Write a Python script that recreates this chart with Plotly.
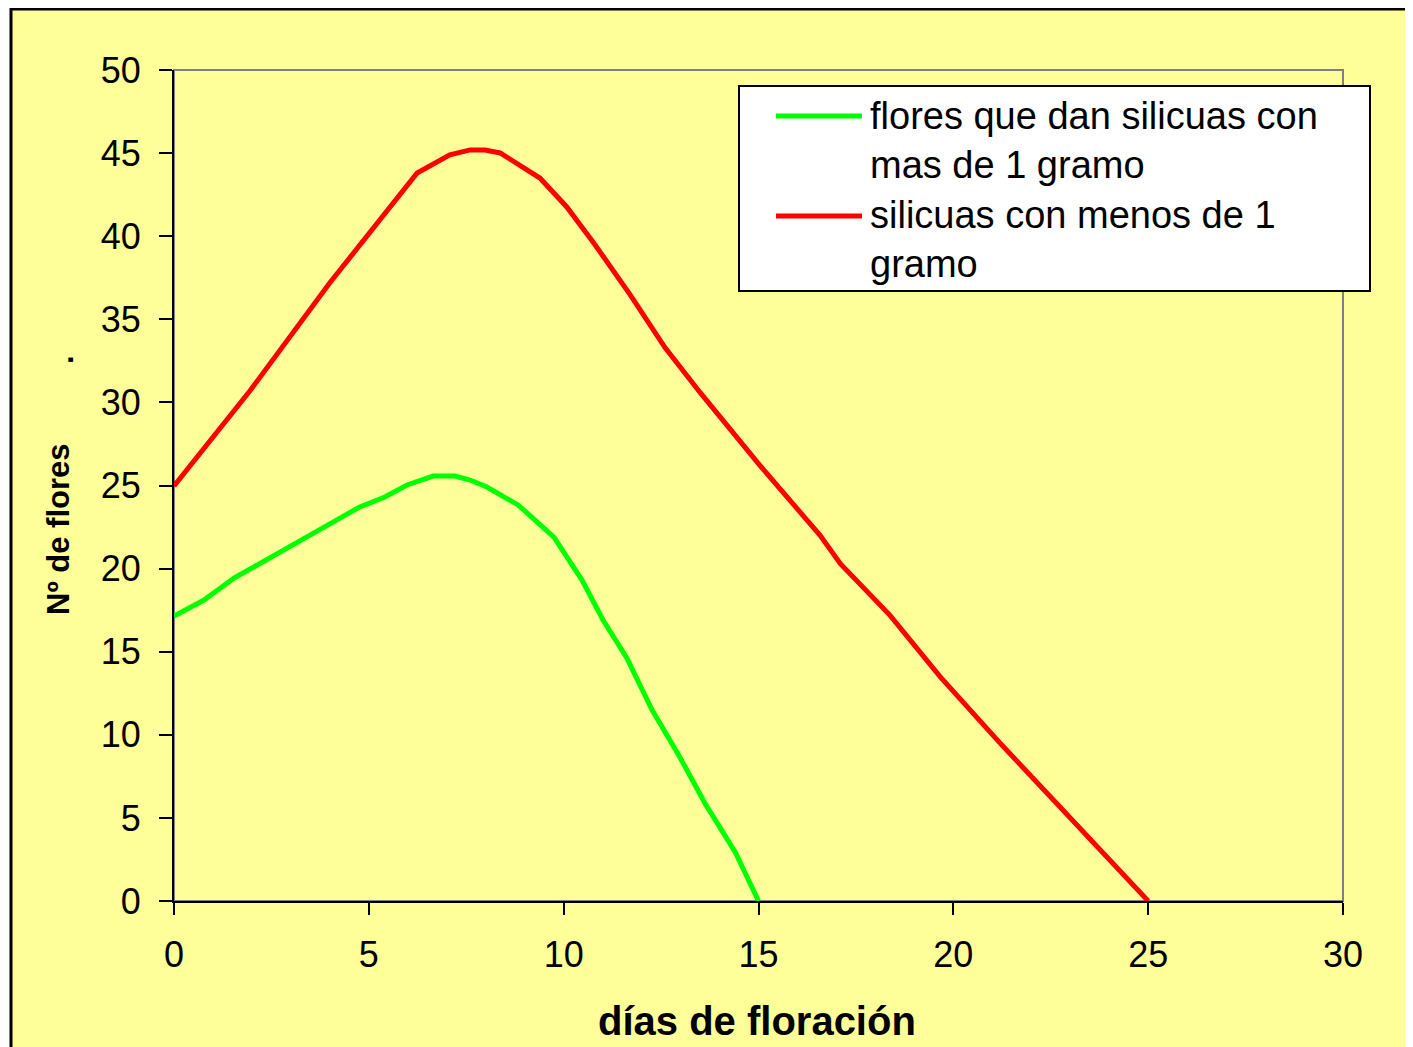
import plotly.graph_objects as go

# ---- data ----
dias_verde = [0, 0.77, 1.54, 4.77, 5.41, 5.98, 6.65, 7.21, 7.60, 8.03, 8.83, 9.75,
              10.47, 11.01, 11.62, 12.27, 12.98, 13.65, 14.40, 15.0]
flores_verde = [17.15, 18.11, 19.43, 23.71, 24.31, 25.03, 25.57, 25.57, 25.33, 24.91,
                23.83, 21.90, 19.31, 16.91, 14.62, 11.49, 8.66, 5.78, 2.95, 0]

dias_rojo = [0, 1.95, 4.0, 4.82, 5.54, 6.24, 7.08, 7.60, 7.98, 8.37, 9.39, 10.08,
             10.8, 11.7, 12.6, 13.5, 15.04, 16.58, 17.1, 18.37, 19.66, 21.2, 25.0]
flores_rojo = [24.97, 30.7, 37.2, 39.6, 41.8, 43.80, 44.89, 45.19, 45.19, 45.01, 43.50,
               41.76, 39.5, 36.5, 33.3, 30.6, 26.2, 22.0, 20.3, 17.2, 13.5, 9.5, 0]

nombres = ["flores que dan silicuas con<br>mas de 1 gramo",
           "silicuas con menos de 1<br>gramo"]
colores = ["#00FF00", "#FF0000"]

x_ticks = [0, 5, 10, 15, 20, 25, 30]
y_ticks = [0, 5, 10, 15, 20, 25, 30, 35, 40, 45, 50]
x_title = "días de floración"
y_title = "Nº de flores"

# ---- layout geometry (page pixels; page body adds an 8px offset) ----
W, H = 1413, 1047
OFF = 8
L, R, T, B = 174, 1343, 70, 901
YELLOW = "#FFFF99"
FONT = "Liberation Sans, Arial, sans-serif"


def px(p):
    return (p - L) / (R - L)


def py(p):
    return (B - p) / (B - T)


fig = go.Figure()
fig.add_trace(go.Scatter(x=dias_verde, y=flores_verde, mode="lines",
                         line=dict(color=colores[0], width=5), name=nombres[0],
                         showlegend=False))
fig.add_trace(go.Scatter(x=dias_rojo, y=flores_rojo, mode="lines",
                         line=dict(color=colores[1], width=5), name=nombres[1],
                         showlegend=False))

shapes = [
    # chart area background + border
    dict(type="rect", xref="paper", yref="paper", x0=px(11), x1=px(1460),
         y0=py(1100), y1=py(9), fillcolor=YELLOW, line=dict(color="black", width=3),
         layer="below"),
    # plot area gray frame
    dict(type="rect", xref="paper", yref="paper", x0=0, x1=1, y0=0, y1=1,
         line=dict(color="#808080", width=2), layer="below"),
    # legend box
    dict(type="rect", xref="paper", yref="paper", x0=px(739), x1=px(1370),
         y0=py(291), y1=py(86), fillcolor="white", line=dict(color="black", width=2)),
    dict(type="line", xref="paper", yref="paper", x0=px(776), x1=px(862),
         y0=py(116), y1=py(116), line=dict(color=colores[0], width=5)),
    dict(type="line", xref="paper", yref="paper", x0=px(776), x1=px(862),
         y0=py(216), y1=py(216), line=dict(color=colores[1], width=5)),
]

annotations = [
    dict(text=nombres[0], xref="paper", yref="paper", x=px(868), y=py(140),
         xanchor="left", yanchor="middle", align="left", showarrow=False,
         font=dict(family=FONT, size=38, color="black")),
    dict(text=nombres[1], xref="paper", yref="paper", x=px(868), y=py(240),
         xanchor="left", yanchor="middle", align="left", showarrow=False,
         font=dict(family=FONT, size=38, color="black")),
    dict(text="<b>" + x_title + "</b>", xref="paper", yref="paper", x=px(757),
         y=py(1021), xanchor="center", yanchor="middle", showarrow=False,
         font=dict(family=FONT, size=40, color="black")),
    dict(text="<b>" + y_title + "</b>", xref="paper", yref="paper", x=px(58),
         y=py(529), xanchor="center", yanchor="middle", showarrow=False,
         textangle=-90, font=dict(family=FONT, size=31, color="black")),
    dict(text="<b>.</b>", xref="paper", yref="paper", x=px(62), y=py(360),
         xanchor="center", yanchor="middle", showarrow=False,
         textangle=-90, font=dict(family=FONT, size=31, color="black")),
]

fig.update_layout(
    width=W, height=H,
    margin=dict(l=L - OFF, r=W - (R - OFF), t=T - OFF, b=H - (B - OFF), pad=0),
    paper_bgcolor="white", plot_bgcolor=YELLOW,
    shapes=shapes, annotations=annotations,
    showlegend=False,
    font=dict(family=FONT, color="black"),
)
fig.update_xaxes(range=[0, 30], tickvals=x_ticks, ticktext=[str(v) for v in x_ticks],
                 showgrid=False, zeroline=False, showline=True, linecolor="black",
                 linewidth=2, ticks="outside", ticklen=12, tickwidth=2,
                 tickcolor="black", tickfont=dict(size=36, family=FONT),
                 ticklabelstandoff=9)
fig.update_yaxes(range=[0, 50], tickvals=y_ticks, ticktext=[str(v) for v in y_ticks],
                 showgrid=False, zeroline=False, showline=True, linecolor="black",
                 linewidth=2, ticks="outside", ticklen=13, tickwidth=2,
                 tickcolor="black", tickfont=dict(size=36, family=FONT),
                 ticklabelstandoff=11)

fig.write_html("out.html")
